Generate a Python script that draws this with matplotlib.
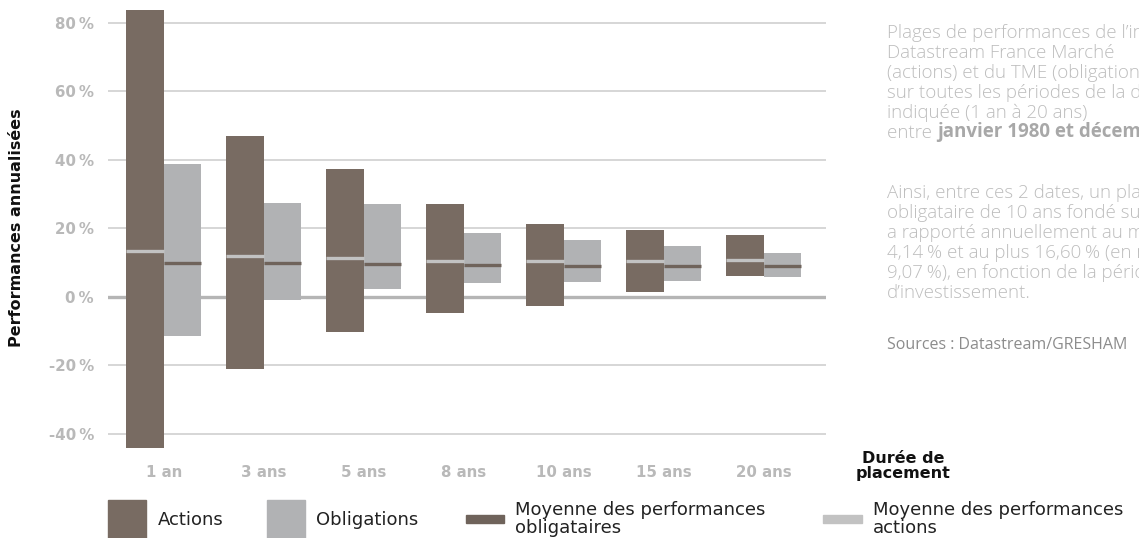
import matplotlib
matplotlib.use("Agg")
import matplotlib.pyplot as plt
from matplotlib.patches import Rectangle
from matplotlib import font_manager
import numpy as np

# Investment horizons
durations = ["1 an", "3 ans", "5 ans", "8 ans", "10 ans", "15 ans", "20 ans"]

# Equities (actions): min / max / mean annualised performance, %
actions_min = [-44.1, -21.0, -10.2, -4.9, -2.6, 1.5, 6.0]
actions_max = [83.7, 46.9, 37.3, 27.1, 21.2, 19.5, 18.0]
actions_mean = [13.3, 11.9, 11.4, 10.5, 10.5, 10.5, 10.7]

# Bonds (obligations): min / max / mean annualised performance, %
oblig_min = [-11.4, -0.9, 2.3, 4.1, 4.14, 4.7, 5.8]
oblig_max = [38.7, 27.4, 27.1, 18.6, 16.60, 14.8, 12.8]
oblig_mean = [9.9, 9.7, 9.5, 9.2, 9.07, 9.1, 9.1]

y_ticks = [-40, -20, 0, 20, 40, 60, 80]

C_ACT = "#786b62"
C_OBL = "#b1b2b4"
C_ACT_MEAN = "#c2c2c2"
C_OBL_MEAN = "#6f635b"
C_TICK = "#b9b9b9"
C_TEXT = "#bdbdbd"

FONT = ["DejaVu Sans"]
plt.rcParams["font.family"] = FONT

# a light-weight face for the side note, if one is installed
LIGHT = None
for fam in ["Open Sans", "Noto Sans", "Roboto", "Lato", "Inter"]:
    if any(f.name == fam and isinstance(f.weight, (int, float)) and f.weight <= 300
           for f in font_manager.fontManager.ttflist):
        LIGHT = fam
        break

W, H = 1139, 538
fig = plt.figure(figsize=(W / 100, H / 100), dpi=100)

ax = fig.add_axes([108 / W, 1 - 454.2 / H, (826 - 108) / W, (454.2 - 2.15) / H])
ax.set_xlim(-0.56, 6.62)
ax.set_ylim(-46, 86)

x = np.arange(len(durations))
wa, wo = 0.38, 0.37

# horizontal grid, zero line heavier
for t in y_ticks:
    if t == 0:
        ax.axhline(t, color="#b5b5b5", lw=2.4, zorder=0)
    else:
        ax.axhline(t, color="#d0d0d0", lw=1.2, zorder=0)

a_lo = np.array(actions_min)
a_hi = np.array(actions_max)
o_lo = np.array(oblig_min)
o_hi = np.array(oblig_max)

ax.bar(x, a_hi - a_lo, bottom=a_lo, width=-wa, align="edge", color=C_ACT, zorder=2)
ax.bar(x, o_hi - o_lo, bottom=o_lo, width=wo, align="edge", color=C_OBL, zorder=2)

ax.hlines(actions_mean, x - wa, x, color=C_ACT_MEAN, lw=2.4, zorder=3)
ax.hlines(oblig_mean, x, x + wo, color=C_OBL_MEAN, lw=2.4, zorder=3)

for s in ax.spines.values():
    s.set_visible(False)
ax.tick_params(length=0)
ax.set_yticks(y_ticks)
ax.set_yticklabels([f"{t}\u2009%" for t in y_ticks], color=C_TICK,
                   fontsize=10.8, fontweight="bold")
ax.tick_params(axis="y", pad=10)
ax.set_xticks(x)
ax.set_xticklabels(durations, color=C_TICK, fontsize=10.8, fontweight="bold")
ax.tick_params(axis="x", pad=8)

fig.text(17 / W, 1 - 228 / H, "Performances annualisées", rotation=90,
         ha="center", va="center", fontsize=11.5, fontweight="bold", color="#111111")
fig.text(903 / W, 1 - 466 / H, "Durée de\nplacement", ha="center", va="center",
         fontsize=11.5, fontweight="bold", color="#111111", linespacing=0.95)

# legend
def px_rect(x0, y0, w, h, color):
    fig.patches.append(Rectangle((x0 / W, 1 - (y0 + h) / H), w / W, h / H,
                                 transform=fig.transFigure, color=color))

px_rect(108, 500, 38, 38, C_ACT)
px_rect(267, 500, 38, 38, C_OBL)
px_rect(466, 515, 38, 8, C_OBL_MEAN)
px_rect(823, 515, 39, 8, C_ACT_MEAN)

leg_kw = dict(fontsize=13, color="#222222", va="center", ha="left")
fig.text(158 / W, 1 - 520 / H, "Actions", **leg_kw)
fig.text(316 / W, 1 - 520 / H, "Obligations", **leg_kw)
fig.text(515 / W, 1 - 519 / H, "Moyenne des performances\nobligataires", linespacing=0.98, **leg_kw)
fig.text(873 / W, 1 - 519 / H, "Moyenne des performances\nactions", linespacing=0.98, **leg_kw)

# side note
para1 = ["Plages de performances de l\u2019indice",
         "Datastream France Marché",
         "(actions) et du TME (obligations)",
         "sur toutes les périodes de la durée",
         "indiquée (1 an à 20 ans)"]
para2 = ["Ainsi, entre ces 2 dates, un placement",
         "obligataire de 10 ans fondé sur le TME",
         "a rapporté annuellement au moins",
         "4,14\u2009% et au plus 16,60\u2009% (en moyenne",
         "9,07\u2009%), en fonction de la période",
         "d\u2019investissement."]
note_kw = dict(fontsize=13.5, color=C_TEXT, va="baseline", ha="left")
if LIGHT:
    note_kw.update(family=[LIGHT, "DejaVu Sans"], fontweight="light")
bold_kw = dict(note_kw, fontweight="bold", color="#a8a8a8")

X0 = 887 / W
base = 38.5
for line in para1:
    fig.text(X0, 1 - base / H, line, **note_kw)
    base += 20
t = fig.text(X0, 1 - base / H, "entre ", **note_kw)
ax.annotate("janvier 1980 et décembre 2019", xy=(1, 0), xycoords=t,
            annotation_clip=False, **dict(bold_kw, va="bottom"))
base = 197.5
for line in para2:
    fig.text(X0, 1 - base / H, line, **note_kw)
    base += 20
src_kw = dict(fontsize=11.5, color="#8c8c8c", va="baseline", ha="left")
if LIGHT:
    src_kw.update(family=[LIGHT, "DejaVu Sans"])
fig.text(X0, 1 - 349 / H, "Sources : Datastream/GRESHAM", **src_kw)

fig.savefig("out.png", dpi=100)
